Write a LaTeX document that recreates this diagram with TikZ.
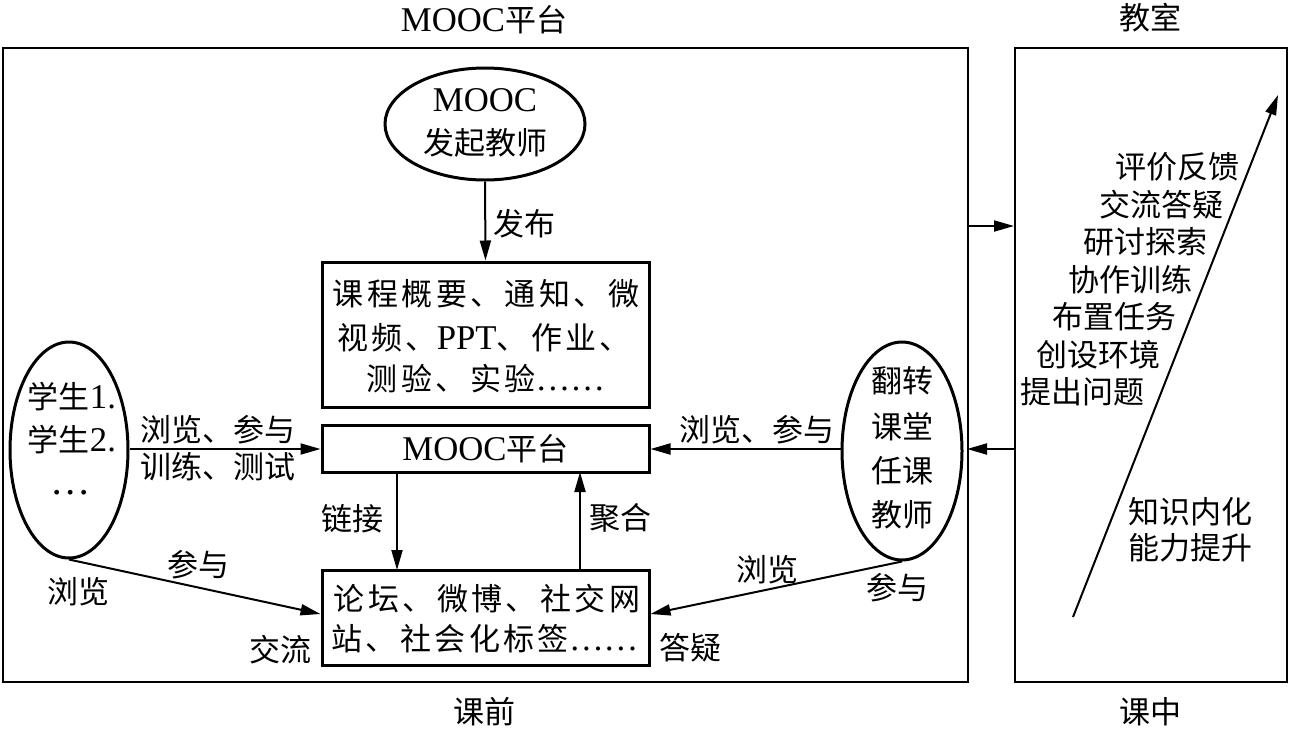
\documentclass[tikz,border=0pt]{standalone}
\usepackage{fontspec}
\setmainfont{Liberation Serif}
\newfontfamily\cjk{Noto Sans CJK SC}
\newfontfamily\cjkwide[LetterSpace=11]{Noto Sans CJK SC}
\newfontfamily\lat[Scale=1.12]{Liberation Serif}
\usetikzlibrary{shapes.geometric,arrows.meta}
\begin{document}
\begin{tikzpicture}[x=0.5pt,y=-0.5pt,
  font=\cjk\fontsize{15.5}{22}\selectfont,
  frame/.style={draw,line width=1pt,inner sep=0,anchor=north west},
  box/.style={draw,line width=1.5pt,inner sep=0,minimum width=163.5pt},
  ell/.style={draw,ellipse,line width=1.5pt,inner sep=0},
  arr/.style={-{Triangle[length=10pt,width=5.5pt]},line width=1pt},
  lbl/.style={inner sep=0},
  bl/.style={align=center,inner sep=0},
  wide/.style={bl,font=\cjkwide\fontsize{15.5}{22}\selectfont}]
\useasboundingbox (0,0) rectangle (1289,729);
% frames
\node[frame,minimum width=482.5pt,minimum height=317pt] (L) at (2,47) {};
\node[frame,minimum width=136pt,minimum height=317pt] (R) at (1014,47) {};
\node[lbl] (tL) at (484,20) {{\lat MOOC}平台};
\node[lbl] (tR) at (1150,18) {教室};
\node[lbl] (bL) at (484,712) {课前};
\node[lbl] (bR) at (1150,712) {课中};
% nodes
\node[ell,minimum width=100pt,minimum height=56pt] (T) at (485,124) {};
\node[bl] at (485,100) {\lat MOOC};
\node[bl] at (485,143) {发起教师};
\node[box,minimum height=72.5pt] (B1) at (485.5,334.5) {};
\node[wide] at (486,294) {课程概要、通知、微};
\node[wide] at (484,338) {视频、{\lat PPT}、作业、};
\node[wide] at (486,379) {测验、实验{\lat ……}};
\node[box,minimum height=23.5pt] (B2) at (485.5,448.5) {{\lat MOOC}平台};
\node[box,minimum height=47.5pt] (B3) at (485.5,617.5) {};
\node[wide] at (487,599) {论坛、微博、社交网};
\node[wide] at (485,639) {站、社会化标签{\lat ……}};
\node[ell,minimum width=59pt,minimum height=108pt] (S) at (69,450) {};
\node[bl] at (72,397) {学生{\lat 1.}};
\node[bl] at (72,440) {学生{\lat 2.}};
\node[lbl,font=\lat\fontsize{18}{18}\selectfont] at (71,493) {…};
\node[ell,minimum width=60pt,minimum height=109pt] (F) at (902,451) {};
\node[bl] at (902,381) {翻转};
\node[bl] at (902,427) {课堂};
\node[bl] at (902,471) {任课};
\node[bl] at (902,515) {教师};
% connectors
\draw[arr] (T.south) -- (B1.north);
\node[lbl] at (524,224) {发布};
\coordinate (sE) at (S.east |- 0,449);
\coordinate (b2W) at (B2.west |- 0,449);
\draw[arr] (sE) -- (b2W);
\node[lbl] at (218,430) {浏览、参与};
\node[lbl] at (218,467) {训练、测试};
\coordinate (b3W) at (B3.west |- 0,614);
\draw[arr] (S.south) -- (b3W);
\node[lbl] at (198,565) {参与};
\node[lbl] at (78,592) {浏览};
\node[lbl] at (280,650) {交流};
\coordinate (fW) at (F.west |- 0,449);
\coordinate (b2E) at (B2.east |- 0,449);
\draw[arr] (fW) -- (b2E);
\node[lbl] at (757,430) {浏览、参与};
\coordinate (b3E) at (B3.east |- 0,614);
\draw[arr] (F.south) -- (b3E);
\node[lbl] at (767,570) {浏览};
\node[lbl] at (897,588) {参与};
\node[lbl] at (690,648) {答疑};
\coordinate (b2s) at (397,472);
\coordinate (b3n) at (397,570);
\draw[arr] (b2s) -- (b3n);
\node[lbl] at (352,519) {链接};
\coordinate (b3n2) at (580,570);
\coordinate (b2s2) at (580,472);
\draw[arr] (b3n2) -- (b2s2);
\node[lbl] at (620,518) {聚合};
\coordinate (LE1) at (967,226);
\coordinate (RW1) at (1014,226);
\draw[arr] (LE1) -- (RW1);
\coordinate (RW2) at (1014,449);
\coordinate (LE2) at (967,449);
\draw[arr] (RW2) -- (LE2);
% right frame
\coordinate (d0) at (1073,617);
\coordinate (d1) at (1278,95);
\draw[arr] (d0) -- (d1);
\node[lbl,anchor=east] at (1240,167) {评价反馈};
\node[lbl,anchor=east] at (1224,205) {交流答疑};
\node[lbl,anchor=east] at (1208,242) {研讨探索};
\node[lbl,anchor=east] at (1193,280) {协作训练};
\node[lbl,anchor=east] at (1177,317) {布置任务};
\node[lbl,anchor=east] at (1161,355) {创设环境};
\node[lbl,anchor=east] at (1145,392) {提出问题};
\node[lbl] at (1190,512) {知识内化};
\node[lbl] at (1190,548) {能力提升};
\end{tikzpicture}
\end{document}
